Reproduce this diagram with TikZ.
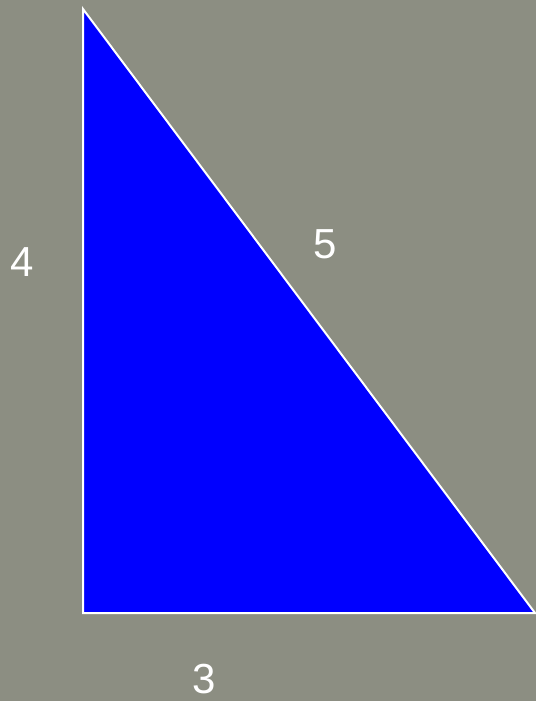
\documentclass[tikz,border=0pt]{standalone}
\usepackage{fontspec}
\setmainfont{Liberation Sans}
\definecolor{bggray}{HTML}{8C8E82}
\begin{document}
\begin{tikzpicture}[x=1pt,y=-1pt,
  lbl/.style={text=white,font=\fontsize{42}{42}\selectfont,inner sep=0pt,anchor=center}]
\fill[bggray] (0,0) rectangle (536,701);
\useasboundingbox (0,0) rectangle (536,701);
\coordinate (A) at (83,9);
\coordinate (B) at (83,613);
\coordinate (C) at (535,613);
\filldraw[fill=blue,draw=white,line width=2pt,line join=miter] (A) -- (B) -- (C) -- cycle;
\node[lbl] (l4) at (22.5,262) {4};
\node[lbl] (l5) at (325,244) {5};
\node[lbl] (l3) at (204,679) {3};
\end{tikzpicture}
\end{document}
